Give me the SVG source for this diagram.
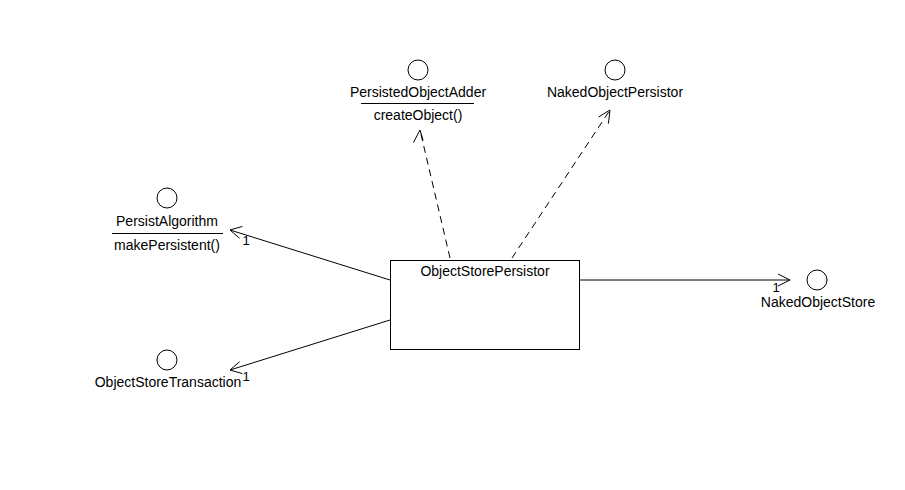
<svg xmlns="http://www.w3.org/2000/svg" width="905" height="490" viewBox="0 0 905 490">
  <style>
    text { font-family: "Liberation Sans", Arial, sans-serif; font-size: 14px; fill: #000; }
    .c { text-anchor: middle; }
    .mult { font-size: 13px; }
    .iface { fill: #fff; stroke: #000; stroke-width: 1; }
    .rule { stroke: #000; stroke-width: 1; }
    .box { fill: #fff; stroke: #000; stroke-width: 1; }
    .link { fill: none; stroke: #000; stroke-width: 1; }
    .dep { fill: none; stroke: #000; stroke-width: 1; stroke-dasharray: 7 5; }
    .head { fill: none; stroke: #000; stroke-width: 1; }
  </style>
  <rect width="905" height="490" fill="#fff"/>

  <!-- connectors -->
  <g id="connectors">
    <!-- realizes PersistedObjectAdder -->
    <line class="dep" x1="450" y1="258" x2="420" y2="130"/>
    <polyline class="head" points="413.4,142.6 420,130 423.1,140.3"/>
    <!-- realizes NakedObjectPersistor -->
    <line class="dep" x1="512" y1="258" x2="610" y2="110"/>
    <polyline class="head" points="598.5,117.0 610,110 608.4,123.6"/>
    <!-- uses PersistAlgorithm -->
    <line class="link" x1="390" y1="280" x2="230" y2="230"/>
    <polyline class="head" points="242.4,226.4 230,230 239.6,238.3"/>
    <text x="246" y="245" class="c mult">1</text>
    <!-- uses ObjectStoreTransaction -->
    <line class="link" x1="390" y1="320" x2="230" y2="370"/>
    <polyline class="head" points="239.6,361.7 230,370 242.4,373.6"/>
    <text x="246" y="381" class="c mult">1</text>
    <!-- uses NakedObjectStore -->
    <line class="link" x1="579" y1="280" x2="790" y2="280"/>
    <polyline class="head" points="778,274 790,280 778,286"/>
    <text x="776" y="292" class="c mult">1</text>
  </g>

  <g id="PersistedObjectAdder">
    <circle class="iface" cx="418" cy="70" r="10"/>
    <text x="418" y="97" class="c">PersistedObjectAdder</text>
    <line class="rule" x1="361" y1="103.5" x2="474" y2="103.5"/>
    <text x="418" y="120" class="c">createObject()</text>
  </g>

  <g id="NakedObjectPersistor">
    <circle class="iface" cx="615" cy="70" r="10"/>
    <text x="615" y="97" class="c">NakedObjectPersistor</text>
  </g>

  <g id="PersistAlgorithm">
    <circle class="iface" cx="167" cy="198" r="10"/>
    <text x="167" y="226" class="c">PersistAlgorithm</text>
    <line class="rule" x1="112" y1="233.5" x2="223" y2="233.5"/>
    <text x="167" y="250" class="c">makePersistent()</text>
  </g>

  <g id="ObjectStoreTransaction">
    <circle class="iface" cx="167" cy="360" r="10"/>
    <text x="168" y="387" class="c">ObjectStoreTransaction</text>
  </g>

  <g id="NakedObjectStore">
    <circle class="iface" cx="817" cy="280" r="10"/>
    <text x="818" y="307" class="c">NakedObjectStore</text>
  </g>

  <g id="ObjectStorePersistor">
    <rect class="box" x="390.5" y="260.5" width="189" height="89"/>
    <text x="485" y="276" class="c">ObjectStorePersistor</text>
  </g>
</svg>
